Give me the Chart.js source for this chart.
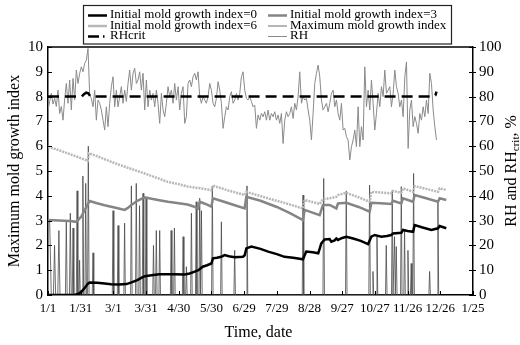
<!DOCTYPE html>
<html>
<head>
<meta charset="utf-8">
<script src="https://cdn.jsdelivr.net/npm/chart.js@4.4.0/dist/chart.umd.min.js"></script>
<style>
  html, body { margin: 0; padding: 0; background: #fff; }
  #wrap { width: 520px; height: 345px; }
</style>
</head>
<body>
<div id="wrap"><canvas id="grafico" width="520" height="345"></canvas></div>
<script>
// etiquetas del eje x (cada 30 dias)
const etiquetasX = ['1/1', '1/31', '3/1', '3/31', '4/30', '5/30', '6/29', '7/29', '8/28', '9/27', '10/27', '11/26', '12/26', '1/25'];

// humedad relativa, un valor cada 1.53 dias desde el 1/1
const rhPaso = 1.53;
const rhValores = [
  74.6, 78, 81.3, 77, 79.3, 76, 82.6, 73.2, 76, 70.5,
  79, 85.3, 77.3, 86.7, 74.6, 87.3, 78.6, 90.7, 85.3, 89.4,
  92, 90, 93.4, 94.7, 99.4, 80.6, 79.3, 75.9, 82.6, 70.5,
  78.6, 77.3, 74.6, 70.5, 66.5, 75.9, 67.9, 77.3, 84, 88,
  75.9, 82.6, 75.9, 80, 84, 77.3, 82.6, 78, 85.3, 90.7,
  82.6, 89.4, 91.4, 85.3, 86.7, 90, 82.6, 89.4, 74.6, 86.7,
  75.9, 82.6, 78.6, 81.3, 75.9, 82.6, 77.3, 69.2, 81.3, 74.6,
  71.9, 77.3, 84, 80, 82.6, 77.3, 85.3, 78.6, 84, 74.6,
  81.3, 84, 69.2, 71.9,
  85.3, 86.7, 84, 88, 89.4, 86.7, 90, 80, 77.3, 80,
  78.6, 77.3, 80, 85.3, 82.6, 77.3, 75.9, 79.3, 86, 82.6,
  77.3, 67.2, 71.9, 75.9, 74.6, 80, 82, 77.3, 78.6, 81.3,
  78.6, 81.3, 88, 90, 82.6, 79.3, 78.6, 80, 78, 75.9,
  76.6, 67.2, 72.6, 70.5, 73.2, 71.9, 73.9, 70.5, 74.6, 70.5,
  73.2, 71.9, 73.9, 70.5, 72.6, 69.2, 73.2, 61.1, 70.5, 73.9,
  71.9, 73.2, 75.9, 71.2, 77.3, 74.6, 80, 90, 77.3, 80,
  78.6, 79.3, 74.6, 70.5, 62.5, 73.2, 85.3, 89.4, 92.7, 88,
  78.6, 74.6, 75.9, 77.3, 73.9,
  77.3, 81.3, 82.6, 75.9, 78.6, 73.2, 70.5, 77.3, 66.5, 67.2,
  63.8, 62.5, 54.4, 59.8, 62.5, 66.5, 59.8, 75.9, 59.8, 67.9,
  62.5, 92, 75.9, 82.6, 74.6, 86.7, 77.3, 66.5, 73.2, 81.3,
  75.9, 84, 80, 90.7, 81.3, 82.6, 84, 75.9, 81.3, 90.7,
  84, 81.3, 75.9, 78.6, 71.9, 88, 94, 59.1, 74.6, 78.6,
  67.9, 71.9, 69.2, 65.2, 73.2, 70.5, 75.9, 71.9, 78.6, 73.2,
  89.4, 85.3, 74.6, 67.9, 62.5
];

const rhCritDias = [0, 31, 33, 35, 37, 39, 354, 355.5, 356.5];
const rhCritValores = [80, 80, 81, 81.6, 81.3, 80, 80, 80.5, 82];

// indice de moho con valor inicial 0
const ind0Dias = [0, 24.5, 28, 31, 34, 36.5, 38, 45, 52, 58, 65, 72, 76, 82, 86, 89, 95, 102, 115, 125.4, 130, 134.6, 138, 142, 146, 149.9, 151.4, 155, 159, 162, 166, 171.3, 178.9, 180.5, 182, 186.6, 195, 202, 210, 217, 225, 234, 235.5, 237, 243, 248, 250.8, 253.9, 258.4, 260, 263, 264.6, 266, 270, 273.8, 280, 287, 293.7, 296.7, 299.8, 305.9, 311, 315, 316.6, 324.2, 325.8, 330, 335, 336.5, 343, 351.8, 357.9, 359.4, 365.5];
const ind0Valores = [0, 0, 0.05, 0.15, 0.3, 0.45, 0.5, 0.49, 0.46, 0.43, 0.42, 0.44, 0.5, 0.6, 0.7, 0.76, 0.8, 0.84, 0.84, 0.83, 0.87, 0.94, 1.0, 1.14, 1.2, 1.27, 1.48, 1.5, 1.54, 1.61, 1.56, 1.52, 1.54, 1.6, 1.88, 1.95, 1.86, 1.75, 1.65, 1.54, 1.5, 1.44, 1.6, 1.75, 1.72, 1.68, 2.08, 2.24, 2.26, 2.15, 2.2, 2.28, 2.22, 2.3, 2.35, 2.28, 2.18, 2.05, 2.35, 2.42, 2.35, 2.38, 2.42, 2.48, 2.51, 2.62, 2.58, 2.55, 2.82, 2.73, 2.62, 2.69, 2.78, 2.69];

// indice de moho con valor inicial 3
const ind3Dias = [0, 10, 20, 26, 30.6, 34, 38.2, 45, 52, 58, 64, 70.3, 73, 76.5, 82, 88.7, 95, 100.9, 110, 120, 128, 133, 137.6, 139.2, 144, 149.9, 151.4, 160, 170, 180.4, 182, 195, 210, 222, 234, 235.5, 242, 249.3, 252.3, 258.4, 264.6, 266.1, 273.8, 285, 295.2, 296.7, 305, 315, 316.6, 324.2, 325.8, 335, 336.5, 347, 357.9, 359.4, 365.5];
const ind3Valores = [3.02, 3.0, 2.98, 2.95, 3.16, 3.45, 3.79, 3.7, 3.62, 3.56, 3.5, 3.43, 3.5, 3.63, 3.8, 3.94, 3.88, 3.83, 3.76, 3.7, 3.65, 3.58, 3.49, 3.76, 3.68, 3.56, 3.9, 3.78, 3.64, 3.49, 3.96, 3.8, 3.55, 3.3, 3.02, 3.43, 3.33, 3.22, 3.63, 3.63, 3.49, 3.69, 3.72, 3.55, 3.36, 3.72, 3.7, 3.67, 3.8, 3.69, 3.9, 3.76, 4.03, 3.9, 3.76, 3.9, 3.83];

// indice de moho con valor inicial 6
const ind6Dias = [0, 10, 20, 30, 36.5, 37.5, 45, 58, 70, 80, 88.7, 100, 110, 120, 128.4, 140, 149.9, 151.4, 165, 180.4, 182, 200, 218, 234, 235.5, 249.3, 252.3, 258.4, 264.6, 266.1, 273.8, 285, 295.2, 296.7, 315, 316.6, 324.2, 325.8, 335, 336.5, 347, 357.9, 359.4, 365.5];
const ind6Valores = [5.98, 5.84, 5.68, 5.52, 5.41, 5.71, 5.6, 5.37, 5.18, 5.03, 4.9, 4.72, 4.56, 4.47, 4.37, 4.3, 4.23, 4.41, 4.22, 4.03, 4.16, 3.92, 3.7, 3.49, 3.83, 3.67, 3.86, 3.9, 3.96, 4.03, 4.12, 3.94, 3.76, 4.16, 4.1, 4.2, 4.12, 4.3, 4.16, 4.39, 4.28, 4.16, 4.3, 4.23];

// indice maximo de moho (picos)
const maxDias = [0, 1.5, 3, 5, 6, 7, 9, 10, 11, 16, 16.8, 17.6, 19.7, 20.5, 21.3, 22.3, 23, 23.7, 26, 26.7, 27.4, 28.4, 29, 29.6, 31.3, 32, 32.7, 33.9, 34.6, 35.3, 36.3, 37, 37.7, 40.6, 41.3, 42, 59, 59.7, 60.4, 63.6, 64.3, 65, 69.6, 70.3, 71, 75.8, 76.5, 77.2, 80.3, 81, 81.7, 83.3, 84, 84.7, 86.5, 87.2, 87.9, 89.3, 90, 90.7, 96.1, 96.8, 97.5, 98.7, 99.4, 100.1, 101.8, 102.5, 103.2, 112.3, 113, 113.7, 115.3, 116, 116.7, 123.3, 124, 124.7, 126.3, 127, 127.7, 130.9, 131.6, 132.3, 135.3, 136, 136.7, 138.5, 139.2, 139.9, 140.1, 140.8, 141.5, 150.1, 150.8, 151.5, 158.4, 159.1, 159.8, 170.6, 171.3, 172, 181.9, 182.6, 183.3, 233.3, 234, 234.7, 252.3, 253, 253.7, 273, 273.7, 274.4, 294.4, 295.1, 295.8, 297.5, 298.2, 298.9, 301.2, 301.9, 302.6, 309.7, 310.4, 311.1, 315.2, 315.9, 316.6, 317.3, 318, 318.7, 318.9, 319.6, 320.3, 323.5, 324.2, 324.9, 326.5, 327.2, 327.9, 329.6, 330.3, 331, 332.6, 333.3, 334, 334.8, 335.5, 336.2, 349.5, 350.2, 350.9, 357.1, 357.8, 358.5];
const maxValores = [3, 3, 0, 0, 2, 0, 0, 2.6, 0, 0, 3, 0, 0, 3.3, 0, 0, 2.7, 0, 0, 4.2, 0, 0, 1.4, 0, 0, 4.8, 0, 0, 4.5, 0, 0, 6, 0, 0, 1.7, 0, 0, 3.4, 0, 0, 2.8, 0, 0, 2.9, 0, 0, 4.4, 0, 0, 4.5, 0, 0, 3.6, 0, 0, 4.1, 0, 0, 3.95, 0, 0, 2, 0, 0, 2.6, 0, 0, 2.6, 0, 0, 2.6, 0, 0, 2.7, 0, 0, 2.35, 0, 0, 1.14, 0, 0, 3.3, 0, 0, 3.76, 0, 0, 3.9, 0, 0, 3.4, 0, 0, 4.4, 0, 0, 2.95, 0, 0, 1.8, 0, 0, 4.4, 0, 0, 4.03, 0, 0, 4.7, 0, 0, 4.2, 0, 0, 4.43, 0, 0, 0.95, 0, 0, 2.35, 0, 0, 2, 0, 0, 4.2, 0, 0, 2.35, 0, 0, 1.95, 0, 0, 4.37, 0, 0, 2.6, 0, 0, 1.8, 0, 0, 1.27, 0, 0, 4.9, 0, 0, 0.95, 0, 0, 3.8, 0];

const fuente = '"Liberation Serif", "Times New Roman", serif';
const puntos = (dias, vals) => dias.map((d, i) => ({ x: d, y: vals[i] }));

// marco superior y marcas de graduacion hacia adentro
const marcasPlugin = {
  id: 'marcas',
  afterDraw(chart) {
    const { ctx, chartArea: a, scales } = chart;
    ctx.save();
    ctx.strokeStyle = '#000';
    ctx.lineWidth = 1.5;
    ctx.beginPath();
    ctx.moveTo(a.left, a.top);
    ctx.lineTo(a.right, a.top);
    ctx.stroke();
    ctx.lineWidth = 1;
    ctx.beginPath();
    scales.y.ticks.forEach(t => {
      const py = Math.round(scales.y.getPixelForValue(t.value)) + 0.5;
      ctx.moveTo(a.left, py); ctx.lineTo(a.left + 4, py);
    });
    scales.y2.ticks.forEach(t => {
      const py = Math.round(scales.y2.getPixelForValue(t.value)) + 0.5;
      ctx.moveTo(a.right - 4, py); ctx.lineTo(a.right + 3, py);
    });
    scales.x.ticks.forEach(t => {
      const px = Math.round(scales.x.getPixelForValue(t.value)) + 0.5;
      ctx.moveTo(px, a.bottom); ctx.lineTo(px, a.bottom - 4);
    });
    ctx.stroke();

    // titulos de los ejes
    ctx.fillStyle = '#000';
    ctx.textAlign = 'center';
    ctx.textBaseline = 'middle';
    ctx.font = '16px ' + fuente;
    ctx.fillText('Time, date', (a.left + a.right) / 2 - 2, 333);

    const cy = (a.top + a.bottom) / 2;
    ctx.save();
    ctx.translate(15, cy);
    ctx.rotate(-Math.PI / 2);
    ctx.fillText('Maximum mold growth index', 0, 0);
    ctx.restore();

    ctx.save();
    ctx.translate(512, cy);
    ctx.rotate(-Math.PI / 2);
    const p1 = 'RH and RH', p2 = 'crit', p3 = ', %';
    ctx.font = '16px ' + fuente;
    const w1 = ctx.measureText(p1).width, w3 = ctx.measureText(p3).width;
    ctx.font = '11px ' + fuente;
    const w2 = ctx.measureText(p2).width;
    let x0 = -(w1 + w2 + w3) / 2;
    ctx.textAlign = 'left';
    ctx.font = '16px ' + fuente;
    ctx.fillText(p1, x0, 0);
    ctx.font = '11px ' + fuente;
    ctx.fillText(p2, x0 + w1, 4);
    ctx.font = '16px ' + fuente;
    ctx.fillText(p3, x0 + w1 + w2, 0);
    ctx.restore();
    ctx.restore();
  }
};

// leyenda en dos columnas dentro de un recuadro
const leyendaPlugin = {
  id: 'leyenda',
  afterDraw(chart) {
    const { ctx } = chart;
    const ds = chart.data.datasets;
    const orden = [0, 1, 2, 3, 4, 5];
    ctx.save();
    ctx.fillStyle = '#fff';
    ctx.fillRect(83, 5, 368, 39);
    ctx.strokeStyle = '#222';
    ctx.lineWidth = 1.2;
    ctx.strokeRect(83.5, 5.5, 368, 38.5);
    ctx.font = '13px ' + fuente;
    ctx.textBaseline = 'middle';
    ctx.textAlign = 'left';
    orden.forEach((k, i) => {
      const d = ds[k];
      const col = i % 2, fila = Math.floor(i / 2);
      const y = 15 + fila * 10.5;
      const xs = col === 0 ? 88 : 268;
      const xt = col === 0 ? 110 : 290;
      ctx.strokeStyle = d.borderColor;
      ctx.lineWidth = d.borderWidth;
      ctx.setLineDash(d.label === 'RHcrit' ? [11, 4, 1.5, 20] : []);
      ctx.beginPath();
      ctx.moveTo(xs, y + 0.5);
      ctx.lineTo(xs + 19, y + 0.5);
      ctx.stroke();
      ctx.setLineDash([]);
      ctx.fillStyle = '#000';
      ctx.fillText(d.label, xt, y);
    });
    ctx.restore();
  }
};

new Chart(document.getElementById('grafico').getContext('2d'), {
  type: 'line',
  data: {
    datasets: [
      {
        label: 'Initial mold growth index=0',
        data: puntos(ind0Dias, ind0Valores),
        borderColor: '#000',
        borderWidth: 2.5,
        yAxisID: 'y',
        order: 1
      },
      {
        label: 'Initial mold growth index=3',
        data: puntos(ind3Dias, ind3Valores),
        borderColor: '#858585',
        borderWidth: 2.5,
        yAxisID: 'y',
        order: 3
      },
      {
        label: 'Initial mold growth index=6',
        data: puntos(ind6Dias, ind6Valores),
        borderColor: '#b8b8b8',
        borderWidth: 2.5,
        borderDash: [2, 1],
        yAxisID: 'y',
        order: 4
      },
      {
        label: 'Maximum mold growth index',
        data: puntos(maxDias, maxValores),
        borderColor: '#4a4a4a',
        borderWidth: 0.8,
        yAxisID: 'y',
        order: 5
      },
      {
        label: 'RHcrit',
        data: puntos(rhCritDias, rhCritValores),
        borderColor: '#000',
        borderWidth: 2.5,
        borderDash: [11, 6],
        yAxisID: 'y2',
        order: 2
      },
      {
        label: 'RH',
        data: rhValores.map((v, i) => ({ x: i * rhPaso, y: v })),
        borderColor: '#8a8a8a',
        borderWidth: 1,
        yAxisID: 'y2',
        order: 6
      }
    ]
  },
  options: {
    responsive: false,
    animation: false,
    layout: { padding: { top: 47, left: 0, right: 0, bottom: 0 } },
    elements: { point: { radius: 0 }, line: { tension: 0 } },
    plugins: {
      legend: { display: false },
      tooltip: { enabled: false }
    },
    scales: {
      x: {
        type: 'linear',
        min: 0,
        max: 390,
        afterFit: s => { s.height = 50; },
        grid: { display: false, drawTicks: false },
        border: { color: '#000', width: 1.5 },
        ticks: {
          stepSize: 30,
          autoSkip: false,
          maxRotation: 0,
          padding: 6,
          color: '#000',
          font: { family: fuente, size: 13 },
          callback: v => etiquetasX[Math.round(v / 30)]
        }
      },
      y: {
        position: 'left',
        min: 0,
        max: 10,
        afterFit: s => { s.width = 48; },
        grid: { display: false, drawTicks: false },
        border: { color: '#000', width: 1.5 },
        ticks: { stepSize: 1, padding: 5, color: '#000', font: { family: fuente, size: 15 } }
      },
      y2: {
        position: 'right',
        min: 0,
        max: 100,
        afterFit: s => { s.width = 47; },
        grid: { display: false, drawTicks: false },
        border: { color: '#000', width: 1.5 },
        ticks: { stepSize: 10, padding: 6, color: '#000', font: { family: fuente, size: 15 } }
      }
    }
  },
  plugins: [marcasPlugin, leyendaPlugin]
});
</script>
</body>
</html>
